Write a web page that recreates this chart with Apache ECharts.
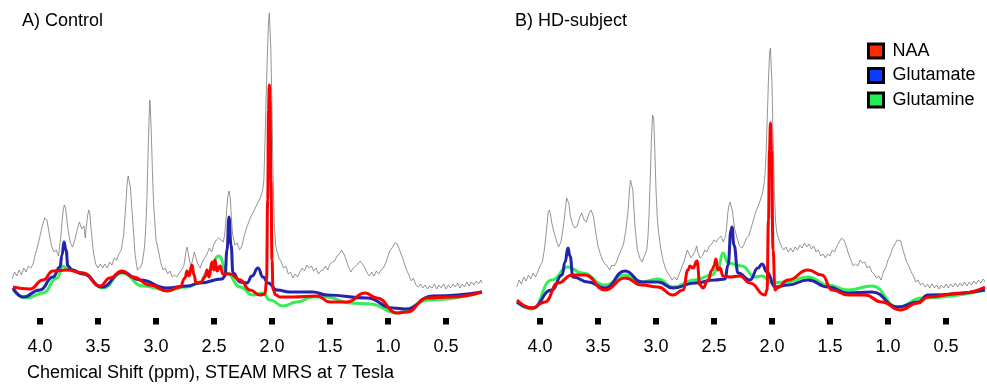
<!DOCTYPE html>
<html>
<head>
<meta charset="utf-8">
<script src="https://cdn.jsdelivr.net/npm/echarts@6/dist/echarts.min.js"></script>
<style>
html,body{margin:0;padding:0;background:#fff;}
#chart{width:987px;height:391px;}
</style>
</head>
<body>
<div id="chart"></div>
<script>
// ---- data (x = chemical shift in ppm, y = signal intensity, arbitrary units) ----
const ppmTicks = [4.0, 3.5, 3.0, 2.5, 2.0, 1.5, 1.0, 0.5];
const panelTitles = ['A) Control', 'B) HD-subject'];
const metaboliteNames = ['NAA', 'Glutamate', 'Glutamine'];
const axisTitle = 'Chemical Shift (ppm), STEAM MRS at 7 Tesla';

// A) Control: measured spectrum
const ctrlSpectrum = [
[4.24,39],[4.22,46],[4.20,42],[4.18,48],[4.16,43],[4.14,50],[4.12,46],[4.10,52],[4.08,50],[4.06,54],
[4.04,64],[4.02,72],[4.00,82],[3.98,92],[3.96,100],[3.95,102],[3.94,98],[3.92,84],[3.90,72],[3.88,66],
[3.86,68],[3.84,62],[3.82,82],[3.81,96],[3.80,108],[3.79,113],[3.78,110],[3.76,90],[3.74,76],[3.72,71],
[3.70,78],[3.68,88],[3.66,96],[3.64,89],[3.62,92],[3.61,80],[3.60,92],[3.59,102],[3.58,108],[3.57,104],
[3.56,90],[3.54,66],[3.52,54],[3.50,50],[3.48,54],[3.46,50],[3.44,54],[3.42,50],[3.40,56],[3.38,53],
[3.36,60],[3.34,58],[3.32,64],[3.30,68],[3.28,82],[3.26,113],[3.25,133],[3.24,142],[3.235,143],[3.23,140],
[3.22,130],[3.21,113],[3.20,96],[3.18,63],[3.16,48],[3.14,50],[3.12,54],[3.10,70],[3.09,86],[3.08,113],
[3.07,158],[3.06,198],[3.054,218],[3.05,214],[3.04,183],[3.03,143],[3.02,113],[3.00,78],[2.98,68],[2.96,56],
[2.94,48],[2.92,50],[2.90,44],[2.88,47],[2.86,41],[2.84,43],[2.82,41],[2.80,45],[2.78,48],[2.76,52],
[2.74,68],[2.73,71],[2.72,63],[2.70,51],[2.68,60],[2.67,66],[2.66,62],[2.64,54],[2.62,50],[2.60,56],
[2.58,60],[2.56,64],[2.54,70],[2.52,66],[2.50,74],[2.48,78],[2.46,80],[2.44,78],[2.42,76],[2.41,82],
[2.40,92],[2.39,110],[2.38,122],[2.37,127],[2.36,120],[2.35,100],[2.34,84],[2.32,73],[2.30,75],[2.28,68],
[2.26,72],[2.24,82],[2.22,90],[2.20,96],[2.18,102],[2.16,106],[2.14,111],[2.12,116],[2.10,120],[2.08,128],
[2.07,138],[2.06,178],[2.05,223],[2.04,263],[2.03,296],[2.023,305],[2.02,303],[2.01,268],[2.00,208],[1.99,138],
[1.98,93],[1.97,75],[1.96,68],[1.94,60],[1.92,56],[1.90,50],[1.88,52],[1.86,44],[1.84,46],[1.82,40],
[1.80,44],[1.78,41],[1.76,46],[1.74,50],[1.72,47],[1.70,53],[1.68,50],[1.66,52],[1.64,47],[1.62,50],
[1.60,44],[1.58,47],[1.56,48],[1.54,52],[1.52,48],[1.50,54],[1.48,56],[1.46,57],[1.44,62],[1.42,64],
[1.40,68],[1.39,69],[1.38,64],[1.36,58],[1.34,51],[1.32,46],[1.30,50],[1.28,52],[1.26,54],[1.24,57],
[1.22,54],[1.20,50],[1.18,45],[1.16,42],[1.14,46],[1.12,42],[1.10,47],[1.08,44],[1.06,48],[1.04,50],
[1.02,55],[1.00,62],[0.98,68],[0.96,71],[0.94,75],[0.93,76],[0.92,74],[0.90,68],[0.88,62],[0.86,55],
[0.84,48],[0.82,43],[0.80,37],[0.78,40],[0.76,33],[0.74,31],[0.72,34],[0.70,30],[0.68,33],[0.66,29],
[0.64,32],[0.62,30],[0.60,34],[0.58,29],[0.56,33],[0.54,30],[0.52,34],[0.50,29],[0.48,33],[0.46,30],
[0.44,34],[0.42,31],[0.40,35],[0.38,30],[0.36,34],[0.34,31],[0.32,36],[0.30,32],[0.28,36],[0.26,33],
[0.24,37],[0.22,34],[0.20,38],[0.19,35]
];
const ctrlNAA = [
[4.233,31],[4.086,29],[3.974,38],[3.888,47],[3.767,48],[3.629,45],[3.483,32],[3.397,40],[3.293,47],[3.198,41],
[3.052,33],[2.905,27],[2.793,31],[2.750,40],[2.733,47],[2.716,42],[2.690,53],[2.672,43],[2.655,35],[2.612,36],
[2.578,41],[2.560,48],[2.543,41],[2.517,56],[2.500,48],[2.491,58],[2.474,47],[2.448,52],[2.422,44],[2.362,44],
[2.276,38],[2.190,28],[2.103,23],[2.060,24],[2.047,38],[2.037,118],[2.030,208],[2.023,233],[2.017,218],[2.009,138],
[2.000,58],[1.991,28],[1.966,23],[1.931,21],[1.819,21],[1.612,22],[1.500,16],[1.353,16],[1.198,25],[1.095,20],
[0.922,5],[0.836,6],[0.664,20],[0.466,21],[0.19,26]
];
const ctrlGlu = [
[4.233,30],[4.147,21],[4.000,28],[3.888,41],[3.828,51],[3.810,63],[3.793,76],[3.776,68],[3.759,52],[3.724,48],
[3.629,44],[3.466,31],[3.293,46],[3.138,38],[2.905,30],[2.733,32],[2.621,35],[2.431,39],[2.405,42],[2.388,68],
[2.371,101],[2.353,73],[2.336,45],[2.276,36],[2.216,35],[2.172,42],[2.121,50],[2.078,41],[2.034,35],[1.957,28],
[1.845,26],[1.647,26],[1.526,23],[1.181,20],[0.957,10],[0.853,9],[0.612,22],[0.19,26]
];
const ctrlGln = [
[4.233,28],[4.112,20],[3.974,25],[3.853,40],[3.802,52],[3.776,50],[3.629,45],[3.457,30],[3.293,45],[3.112,32],
[2.905,28],[2.733,31],[2.621,35],[2.560,45],[2.457,62],[2.388,45],[2.276,31],[2.164,23],[2.078,25],[2.017,18],
[1.905,12],[1.785,16],[1.647,21],[1.526,21],[1.328,15],[1.155,14],[0.922,5],[0.638,18],[0.19,26]
];

// B) HD-subject: measured spectrum
const hdSpectrum = [
[4.20,31],[4.18,38],[4.16,34],[4.14,41],[4.12,37],[4.10,43],[4.08,39],[4.06,45],[4.04,41],[4.02,46],
[4.00,52],[3.98,56],[3.96,70],[3.94,93],[3.93,105],[3.92,108],[3.91,104],[3.90,96],[3.88,86],[3.86,78],
[3.84,71],[3.82,76],[3.80,90],[3.78,110],[3.77,120],[3.76,121],[3.75,114],[3.74,103],[3.72,94],[3.70,90],
[3.68,92],[3.66,100],[3.64,105],[3.62,98],[3.60,96],[3.58,104],[3.56,108],[3.55,108],[3.54,102],[3.52,86],
[3.50,72],[3.48,64],[3.46,58],[3.44,54],[3.42,52],[3.40,48],[3.38,53],[3.36,52],[3.34,56],[3.32,63],
[3.30,68],[3.28,74],[3.26,88],[3.24,108],[3.23,126],[3.22,138],[3.21,140],[3.20,128],[3.19,108],[3.18,90],
[3.16,68],[3.14,60],[3.12,56],[3.10,62],[3.08,68],[3.07,80],[3.06,103],[3.05,138],[3.04,178],[3.03,203],
[3.025,205],[3.02,200],[3.01,168],[3.00,128],[2.99,103],[2.98,88],[2.96,70],[2.94,58],[2.92,50],[2.90,45],
[2.88,42],[2.86,38],[2.84,41],[2.82,38],[2.80,44],[2.78,50],[2.76,56],[2.74,64],[2.73,68],[2.72,66],
[2.70,60],[2.68,63],[2.66,68],[2.65,72],[2.64,66],[2.62,60],[2.60,62],[2.58,68],[2.56,66],[2.54,72],
[2.52,74],[2.50,78],[2.48,76],[2.46,80],[2.44,82],[2.42,76],[2.40,82],[2.39,93],[2.38,106],[2.37,113],
[2.36,116],[2.35,114],[2.34,106],[2.33,96],[2.32,88],[2.30,80],[2.28,72],[2.26,70],[2.24,74],[2.22,80],
[2.20,82],[2.18,90],[2.16,98],[2.14,106],[2.12,112],[2.10,118],[2.08,126],[2.07,133],[2.06,143],[2.05,168],
[2.04,203],[2.03,240],[2.02,266],[2.013,270],[2.01,268],[2.00,233],[1.99,178],[1.98,128],[1.97,98],[1.96,86],
[1.94,78],[1.92,72],[1.90,68],[1.88,71],[1.86,66],[1.84,70],[1.82,66],[1.80,71],[1.78,68],[1.76,73],
[1.74,70],[1.72,75],[1.70,71],[1.68,74],[1.66,69],[1.64,72],[1.62,66],[1.60,68],[1.58,62],[1.56,64],
[1.54,60],[1.52,64],[1.50,62],[1.48,68],[1.46,66],[1.44,72],[1.42,76],[1.40,80],[1.39,81],[1.38,78],
[1.36,72],[1.34,64],[1.32,58],[1.30,52],[1.28,54],[1.26,52],[1.24,58],[1.22,55],[1.20,56],[1.18,50],
[1.16,52],[1.14,46],[1.12,44],[1.10,40],[1.08,42],[1.06,38],[1.04,46],[1.02,50],[1.00,58],[0.98,63],
[0.96,70],[0.94,74],[0.92,78],[0.905,80],[0.89,77],[0.88,72],[0.86,64],[0.84,56],[0.82,52],[0.80,46],
[0.78,42],[0.76,36],[0.74,38],[0.72,33],[0.70,35],[0.68,31],[0.66,34],[0.64,30],[0.62,34],[0.60,30],
[0.58,33],[0.56,29],[0.54,33],[0.52,30],[0.50,34],[0.48,30],[0.46,34],[0.44,31],[0.42,35],[0.40,31],
[0.38,35],[0.36,32],[0.34,36],[0.32,32],[0.30,36],[0.28,33],[0.26,37],[0.24,34],[0.22,38],[0.20,35],
[0.18,39],[0.16,36]
];
const hdNAA = [
[4.198,18],[4.069,10],[3.957,16],[3.845,35],[3.724,43],[3.612,43],[3.440,28],[3.267,40],[3.121,33],[2.983,31],
[2.853,23],[2.767,28],[2.724,48],[2.707,52],[2.681,50],[2.647,57],[2.621,33],[2.595,30],[2.552,38],[2.517,48],
[2.500,52],[2.483,59],[2.466,48],[2.448,50],[2.422,42],[2.362,41],[2.276,42],[2.190,35],[2.060,23],[2.043,28],
[2.030,98],[2.022,168],[2.013,195],[2.004,168],[1.991,68],[1.974,28],[1.957,30],[1.862,38],[1.690,48],[1.569,43],
[1.483,28],[1.345,23],[1.198,23],[1.052,16],[0.897,8],[0.741,15],[0.655,21],[0.362,25],[0.164,31]
];
const hdGlu = [
[4.198,16],[4.069,10],[3.897,28],[3.810,43],[3.784,56],[3.759,70],[3.741,62],[3.716,41],[3.586,36],[3.440,30],
[3.267,47],[3.121,36],[2.983,36],[2.853,30],[2.664,35],[2.491,38],[2.405,39],[2.379,53],[2.353,88],[2.345,91],
[2.328,73],[2.293,45],[2.190,38],[2.121,50],[2.086,54],[2.043,46],[1.974,31],[1.862,33],[1.690,38],[1.517,31],
[1.345,25],[1.138,26],[0.914,11],[0.741,16],[0.655,23],[0.164,28]
];
const hdGln = [
[4.198,16],[4.069,9],[3.897,38],[3.759,51],[3.638,45],[3.440,33],[3.267,43],[3.121,36],[2.983,39],[2.853,31],
[2.664,38],[2.517,43],[2.466,50],[2.422,65],[2.379,55],[2.259,52],[2.147,41],[2.086,42],[2.000,35],[1.888,36],
[1.690,41],[1.517,33],[1.345,28],[1.138,32],[0.914,11],[0.707,20],[0.164,28]
];

// ---- styling / layout ----
const FONT = '"Liberation Sans", Arial, Helvetica, sans-serif';
const lineColors = {NAA: '#ff0000', Glutamate: '#2424aa', Glutamine: '#33ee55'};
const legendColors = {NAA: '#ff2a00', Glutamate: '#0a3cff', Glutamine: '#22ee50'};

function makeX(gridIndex, min, max) {
  return {
    type: 'value', gridIndex: gridIndex, inverse: true, min: min, max: max,
    axisLine: {show: false},
    splitLine: {show: false},
    axisTick: {show: true, customValues: ppmTicks, length: 6.5, inside: false,
               lineStyle: {color: '#000', width: 6}},
    axisLabel: {show: true, customValues: ppmTicks, margin: 18,
                formatter: v => v.toFixed(1),
                color: '#000', fontSize: 18, fontFamily: FONT}
  };
}
function makeY(gridIndex) {
  return {type: 'value', gridIndex: gridIndex, min: -2, max: 318, show: false,
          splitLine: {show: false}};
}
function spectrumSeries(idx, data) {
  return {type: 'line', name: 'spectrum' + idx, xAxisIndex: idx, yAxisIndex: idx, data: data,
          showSymbol: false, symbol: 'none', silent: true, animation: false,
          lineStyle: {color: '#7a7a7a', width: 0.8}, z: 1};
}
function fitSeries(idx, name, data, z) {
  return {type: 'line', name: name, xAxisIndex: idx, yAxisIndex: idx, data: data,
          showSymbol: false, symbol: 'none', smooth: 0.5, smoothMonotone: 'x', animation: false,
          itemStyle: {color: legendColors[name]},
          lineStyle: {color: lineColors[name], width: 3}, z: z};
}

const chart = echarts.init(document.getElementById('chart'), null, {renderer: 'canvas'});
chart.setOption({
  backgroundColor: '#fff',
  animation: false,
  title: [
    {text: panelTitles[0], left: 22, top: 12, padding: 0,
     textStyle: {fontSize: 18, fontWeight: 'normal', color: '#000', fontFamily: FONT}},
    {text: panelTitles[1], left: 515, top: 12, padding: 0,
     textStyle: {fontSize: 18, fontWeight: 'normal', color: '#000', fontFamily: FONT}},
    {text: axisTitle, left: 27, top: 364, padding: 0,
     textStyle: {fontSize: 18, fontWeight: 'normal', color: '#000', fontFamily: FONT}}
  ],
  legend: {
    data: metaboliteNames, orient: 'vertical', left: 867, top: 42, padding: 0,
    icon: 'rect', itemWidth: 15, itemHeight: 14, itemGap: 6.5,
    itemStyle: {borderColor: '#000', borderWidth: 3},
    textStyle: {fontSize: 18, color: '#000', fontFamily: FONT, lineHeight: 18, padding: [0, 0, 0, 4]},
    selectedMode: false
  },
  grid: [
    {left: 13.32, top: 0, width: 468.64, height: 320},
    {left: 516.8, top: 0, width: 468.64, height: 320}
  ],
  xAxis: [makeX(0, 0.19, 4.23), makeX(1, 0.16, 4.20)],
  yAxis: [makeY(0), makeY(1)],
  series: [
    spectrumSeries(0, ctrlSpectrum),
    fitSeries(0, 'Glutamine', ctrlGln, 2),
    fitSeries(0, 'Glutamate', ctrlGlu, 3),
    fitSeries(0, 'NAA', ctrlNAA, 4),
    spectrumSeries(1, hdSpectrum),
    fitSeries(1, 'Glutamine', hdGln, 2),
    fitSeries(1, 'Glutamate', hdGlu, 3),
    fitSeries(1, 'NAA', hdNAA, 4)
  ]
});
</script>
</body>
</html>
